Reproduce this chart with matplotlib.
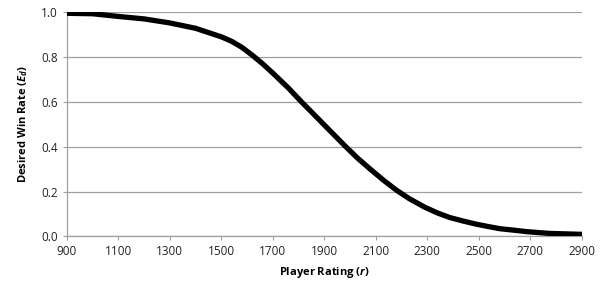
import matplotlib.pyplot as plt

# values
rating = [900, 1000, 1100, 1200, 1300, 1400, 1500, 1540, 1580, 1620, 1660, 1700, 1760, 1811,
          1850, 1897, 1940, 1983, 2030, 2080, 2130, 2180, 2230, 2290, 2340, 2387,
          2440, 2491, 2540, 2582, 2640, 2685, 2730, 2776, 2840, 2899]
win_rate = [0.995, 0.993, 0.981, 0.97, 0.952, 0.928, 0.89, 0.87, 0.843, 0.808, 0.77, 0.728, 0.662, 0.60,
            0.555, 0.50, 0.45, 0.40, 0.348, 0.298, 0.25, 0.206, 0.168, 0.13, 0.104, 0.084,
            0.068, 0.054, 0.043, 0.034, 0.027, 0.021, 0.017, 0.013, 0.011, 0.009]

xticks = list(range(900, 3000, 200))
yticks = [0.0, 0.2, 0.4, 0.6, 0.8, 1.0]

plt.rcParams['font.family'] = ['Open Sans', 'DejaVu Sans']
plt.rcParams['mathtext.fontset'] = 'custom'
plt.rcParams['mathtext.it'] = 'Open Sans:italic:bold'
plt.rcParams['mathtext.rm'] = 'Open Sans:bold'

fig = plt.figure(figsize=(6.08, 2.90), dpi=100)
ax = fig.add_axes([0.110, 0.185, 0.847, 0.773])

ax.plot(rating, win_rate, color='black', linewidth=3.8, solid_capstyle='round',
        solid_joinstyle='round', zorder=3)

ax.set_xlim(900, 2900)
ax.set_ylim(0, 1.0)
ax.set_xticks(xticks)
ax.set_yticks(yticks)
ax.set_yticklabels(['%.1f' % v for v in yticks])
ax.tick_params(labelsize=8.5, labelcolor='#222222', length=3, width=0.8, color='#a0a0a0')

ax.grid(axis='y', color='#a0a0a0', linewidth=0.9)
ax.set_axisbelow(True)
for s in ['top', 'right']:
    ax.spines[s].set_visible(False)
for s in ['left', 'bottom']:
    ax.spines[s].set_color('#a0a0a0')
    ax.spines[s].set_linewidth(0.9)

ax.set_xlabel('Player Rating ($r$)', fontsize=8, fontweight='bold', labelpad=5)
ax.set_ylabel('Desired Win Rate ($E_d$)', fontsize=8, fontweight='bold', labelpad=8)

fig.savefig('out.png', dpi=100)
